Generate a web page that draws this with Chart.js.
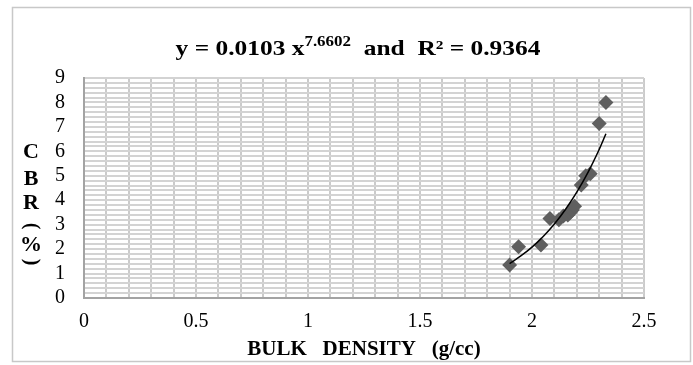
<!DOCTYPE html>
<html>
<head>
<meta charset="utf-8">
<script src="https://cdn.jsdelivr.net/npm/chart.js@4.4.0/dist/chart.umd.min.js"></script>
<style>
  html, body { margin: 0; padding: 0; background: #fff; }
  #wrap { width: 693px; height: 365px; }
</style>
</head>
<body>
<div id="wrap"><canvas id="cbrChart"></canvas></div>
<script>
// measured points (bulk density vs CBR)
const bulkDensity = [1.90, 1.94, 2.04, 2.08, 2.12, 2.14, 2.16, 2.17, 2.18, 2.19, 2.22, 2.24, 2.26, 2.30, 2.33];
const cbrValues   = [1.35, 2.10, 2.17, 3.25, 3.20, 3.35, 3.40, 3.50, 3.60, 3.75, 4.62, 5.00, 5.08, 7.14, 8.00];

// power trend line
const trendDensity = [1.90, 1.95, 2.00, 2.05, 2.10, 2.15, 2.20, 2.25, 2.30, 2.33];
const trendCbr     = [1.41, 1.72, 2.08, 2.52, 3.03, 3.63, 4.33, 5.14, 6.08, 6.72];

const xTickLabels = ['0', '0.5', '1', '1.5', '2', '2.5'];
const yTickLabels = ['0', '1', '2', '3', '4', '5', '6', '7', '8', '9'];

const serif = '"Liberation Serif", "Times New Roman", serif';

const toXY = (xs, ys) => xs.map((x, i) => ({ x: x, y: ys[i] }));

const decor = {
  id: 'decor',
  beforeDraw(chart) {
    const c = chart.ctx;
    c.save();
    c.fillStyle = '#fff';
    c.fillRect(0, 0, chart.width, chart.height);
    c.strokeStyle = '#c8c8c8';
    c.lineWidth = 1.5;
    c.strokeRect(12.5, 7.5, 678, 354);
    c.restore();
  },
  afterDraw(chart) {
    const c = chart.ctx;
    c.save();
    c.fillStyle = '#000';
    c.textBaseline = 'alphabetic';
    c.textAlign = 'left';

    // title with superscript exponent (text in the source is a bit wide)
    const big = 'bold 21px ' + serif;
    const small = 'bold 14px ' + serif;
    const parts = [
      ['y = 0.0103 x', big, 0],
      ['7.6602', small, -9],
      ['  and  R\u00b2 = 0.9364', big, 0]
    ];
    let total = 0;
    parts.forEach(p => { c.font = p[1]; total += c.measureText(p[0]).width; });
    c.save();
    c.translate(358, 55);
    c.scale(1.21, 1);
    let x = -total / 2;
    parts.forEach(p => {
      c.font = p[1];
      c.fillText(p[0], x, p[2]);
      x += c.measureText(p[0]).width;
    });
    c.restore();

    // stacked y axis title
    c.font = 'bold 20px ' + serif;
    c.textAlign = 'center';
    c.textBaseline = 'middle';
    const chars = ['C', 'B', 'R', '(', '%', ')'];
    const ys = [153, 180, 204, 226, 246, 262];
    chars.forEach((ch, i) => {
      c.save();
      c.translate(31, ys[i]);
      if (ch === '(' || ch === ')') c.rotate(Math.PI / 2);
      else c.scale(1.1, 1);
      c.fillText(ch, 0, 0);
      c.restore();
    });
    c.restore();
  }
};

new Chart(document.getElementById('cbrChart'), {
  type: 'scatter',
  data: {
    datasets: [
      {
        label: 'Power trend',
        data: toXY(trendDensity, trendCbr),
        showLine: true,
        borderColor: '#000',
        borderWidth: 1.5,
        pointRadius: 0,
        tension: 0.4,
        order: 0
      },
      {
        label: 'CBR',
        data: toXY(bulkDensity, cbrValues),
        pointStyle: 'rectRot',
        pointRadius: 7.5,
        backgroundColor: '#5f5f5f',
        borderColor: '#5f5f5f',
        borderWidth: 0,
        order: 1
      }
    ]
  },
  options: {
    responsive: true,
    maintainAspectRatio: false,
    animation: false,
    events: [],
    layout: { padding: { left: 0, right: 49, top: 78, bottom: 0 } },
    plugins: {
      legend: { display: false },
      title: { display: false },
      tooltip: { enabled: false }
    },
    scales: {
      x: {
        type: 'linear',
        min: 0,
        max: 2.5,
        afterFit: s => { s.height = 67; },
        ticks: {
          stepSize: 0.1,
          autoSkip: false,
          maxRotation: 0,
          padding: 12,
          color: '#000',
          font: { family: serif, size: 20 },
          callback: v => {
            const k = v / 0.5;
            return Math.abs(k - Math.round(k)) < 1e-6 ? xTickLabels[Math.round(k)] : '';
          }
        },
        grid: { color: '#cbcbcb', lineWidth: 2, drawTicks: false },
        border: { display: true, color: '#a3a3a3', width: 2 },
        title: {
          display: true,
          text: 'BULK   DENSITY   (g/cc)',
          color: '#000',
          font: { family: serif, size: 21, weight: 'bold' },
          padding: { top: 0, bottom: 3 }
        }
      },
      y: {
        min: 0,
        max: 9,
        afterFit: s => { s.width = 84; },
        ticks: {
          stepSize: 0.2,
          autoSkip: false,
          padding: 19,
          color: '#000',
          font: { family: serif, size: 20 },
          callback: v => {
            return Math.abs(v - Math.round(v)) < 1e-6 ? yTickLabels[Math.round(v)] : '';
          }
        },
        grid: { color: '#d3d3d3', lineWidth: 2, drawTicks: false },
        border: { display: true, color: '#a3a3a3', width: 2 }
      }
    }
  },
  plugins: [decor]
});
</script>
</body>
</html>
